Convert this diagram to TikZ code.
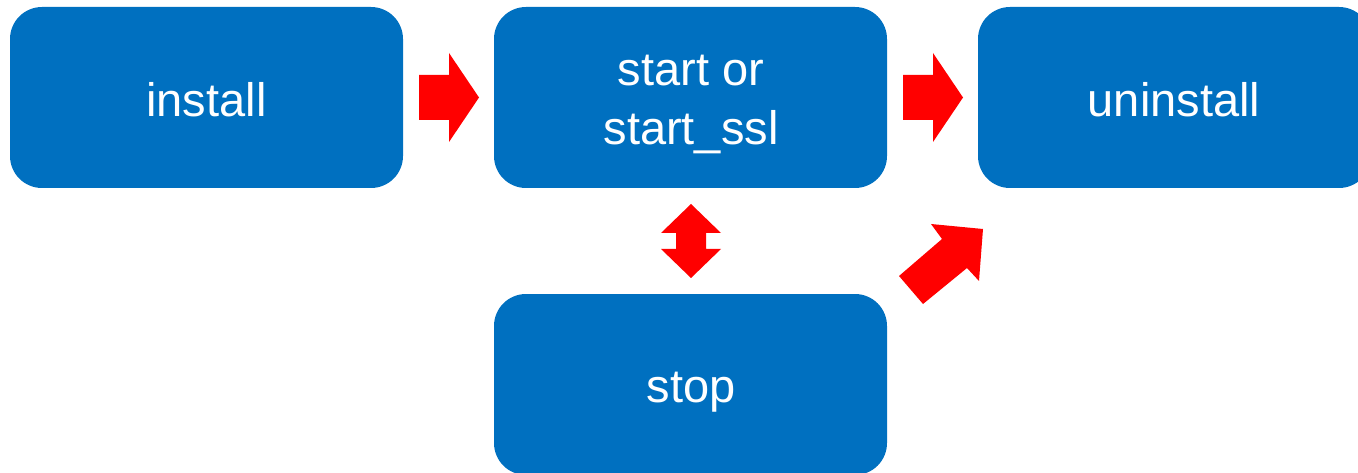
\documentclass[tikz,border=0pt]{standalone}
\usepackage{fontspec}
\setmainfont{Liberation Sans}
\definecolor{boxblue}{RGB}{0,112,192}
\definecolor{arrowred}{RGB}{255,0,0}
\begin{document}
\begin{tikzpicture}[x=1pt,y=-1pt,
  box/.style={draw=none, fill=boxblue, rounded corners=32pt, minimum width=393pt,
    minimum height=181pt, inner sep=0pt},
  lbl/.style={anchor=base, inner sep=0pt, text=white, font=\fontsize{47}{56}\selectfont},
  blockarrow/.style={fill=arrowred, draw=none}]
\useasboundingbox (0,0) rectangle (1358,473);
\clip (0,0) rectangle (1358,473);
\node[box] (install) at (206.5,97.5) {};
\node[box] (start) at (690.5,97.5) {};
\node[box] (uninstall) at (1174.5,97.5) {};
\node[box] (stop) at (690.5,384.5) {};
\node[lbl] (installtxt) at (206.5,117) {install};
\node[lbl] (starttxta) at (691,86) {start or};
\node[lbl] (starttxtb) at (691,145) {start\_ssl};
\node[lbl] (uninstalltxt) at (1174,117) {uninstall};
\node[lbl] (stoptxt) at (691,402) {stop};
% install -> start
\fill[blockarrow] (419,75) -- (449,75) -- (449,53) -- (479,97.5) -- (449,142) -- (449,120) -- (419,120) -- cycle;
% start -> uninstall
\fill[blockarrow] (903,75) -- (933,75) -- (933,53) -- (963,97.5) -- (933,142) -- (933,120) -- (903,120) -- cycle;
% start <-> stop
\fill[blockarrow] (691,204) -- (721,233) -- (706,233) -- (706,249) -- (721,249) -- (691,278)
  -- (661,249) -- (676,249) -- (676,233) -- (661,233) -- cycle;
% stop -> uninstall
\fill[blockarrow] (899,276) -- (942,239) -- (931,224) -- (983,229) -- (979,281) -- (967,268) -- (923,304) -- cycle;
\end{tikzpicture}
\end{document}
